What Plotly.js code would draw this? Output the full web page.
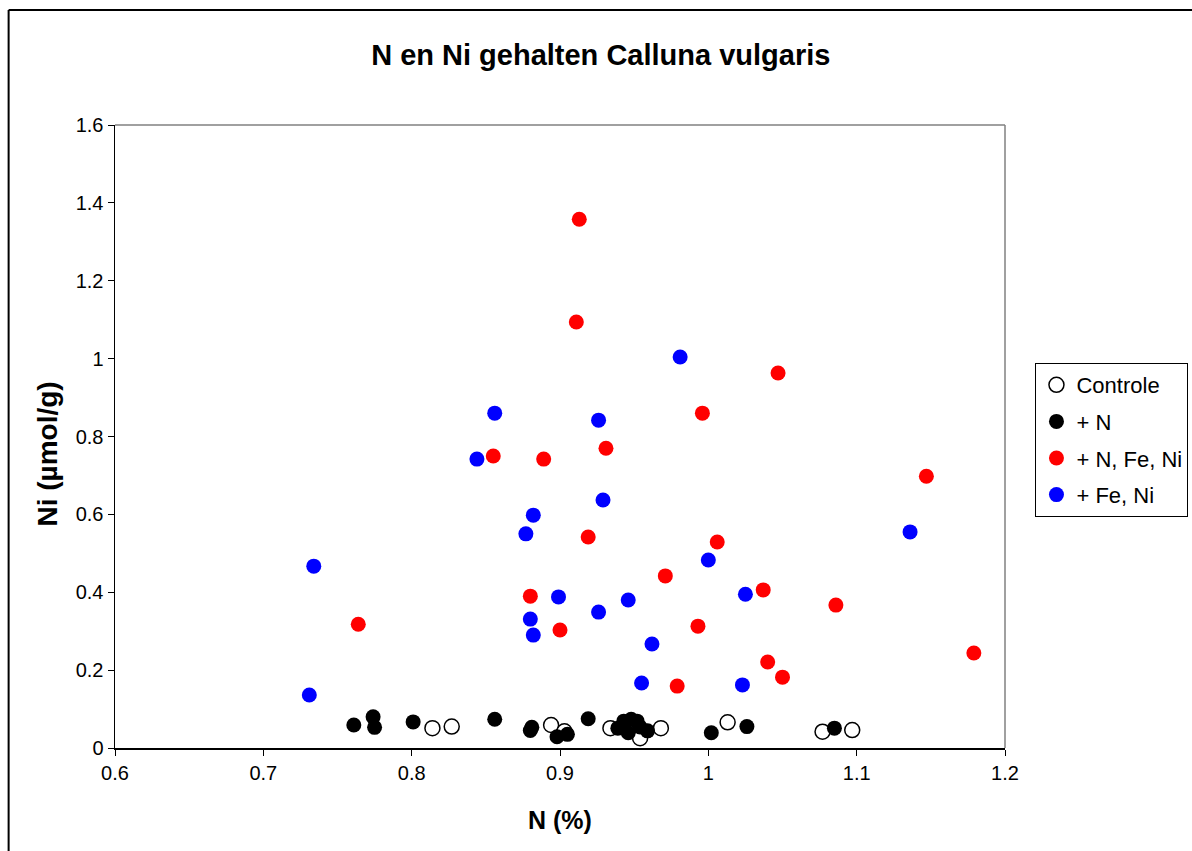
<!DOCTYPE html>
<html>
<head>
<meta charset="utf-8">
<script src="https://cdn.plot.ly/plotly-3.0.1.min.js"></script>
<style>
html,body{margin:0;padding:0;background:#fff;}
#chart{width:1192px;height:851px;}
</style>
</head>
<body>
<div id="chart"></div>
<script>
// Data
const controleN  = [0.814, 0.827, 0.894, 0.903, 0.934, 0.954, 0.968, 1.013, 1.077, 1.097];
const controleNi = [0.051, 0.055, 0.059, 0.043, 0.051, 0.025, 0.051, 0.066, 0.042, 0.046];

const plusN_N  = [0.761, 0.774, 0.775, 0.801, 0.856, 0.880, 0.881, 0.898, 0.905, 0.919,
                  0.939, 0.943, 0.948, 0.952, 0.946, 0.954, 0.959, 1.002, 1.026, 1.085];
const plusN_Ni = [0.059, 0.080, 0.053, 0.067, 0.074, 0.045, 0.053, 0.029, 0.035, 0.075,
                  0.051, 0.069, 0.074, 0.069, 0.039, 0.054, 0.044, 0.039, 0.055, 0.051];

const nFeNi_N  = [0.913, 0.911, 1.047, 0.996, 0.855, 0.889, 0.931, 1.147, 0.919, 1.006, 0.971,
                  1.037, 0.880, 1.086, 0.764, 0.900, 0.993, 1.040, 1.179, 1.050, 0.979];
const nFeNi_Ni = [1.358, 1.094, 0.963, 0.860, 0.750, 0.742, 0.770, 0.698, 0.542, 0.529, 0.442,
                  0.406, 0.390, 0.367, 0.318, 0.303, 0.313, 0.221, 0.244, 0.182, 0.159];

const feNi_N  = [0.981, 0.856, 0.926, 0.844, 0.929, 0.882, 0.877, 1.136, 0.734, 1.000,
                 1.025, 0.899, 0.946, 0.926, 0.880, 0.882, 0.962, 0.955, 1.023, 0.731];
const feNi_Ni = [1.004, 0.860, 0.842, 0.742, 0.637, 0.598, 0.550, 0.555, 0.467, 0.483,
                 0.395, 0.388, 0.380, 0.349, 0.331, 0.290, 0.267, 0.167, 0.162, 0.136];

const seriesNames = ['Controle', '+ N', '+ N, Fe, Ni', '+ Fe, Ni'];
const xTicks = [0.6, 0.7, 0.8, 0.9, 1.0, 1.1, 1.2];
const yTicks = [0, 0.2, 0.4, 0.6, 0.8, 1.0, 1.2, 1.4, 1.6];

const FONT = 'Liberation Sans, Arial, sans-serif';
const MS = 15;

const traces = [
  {x: controleN, y: controleNi, name: seriesNames[0], legendgroup: 'a', mode: 'markers', type: 'scatter',
   marker: {size: MS, color: '#ffffff', line: {color: '#000000', width: 1.5}}},
  {x: plusN_N, y: plusN_Ni, name: seriesNames[1], legendgroup: 'b', mode: 'markers', type: 'scatter',
   marker: {size: MS, color: '#000000', line: {width: 0}}},
  {x: nFeNi_N, y: nFeNi_Ni, name: seriesNames[2], legendgroup: 'c', mode: 'markers', type: 'scatter',
   marker: {size: MS, color: '#ff0000', line: {width: 0}}},
  {x: feNi_N, y: feNi_Ni, name: seriesNames[3], legendgroup: 'd', mode: 'markers', type: 'scatter',
   marker: {size: MS, color: '#0000ff', line: {width: 0}}}
];

const L = 114.5, R = 1005.5, T = 125, B = 748, W = 1192, H = 851;
const pw = R - L, ph = B - T;
function px2x(p){ return (p - L) / pw; }
function py2y(p){ return (B - p) / ph; }

const layout = {
  width: W, height: H,
  margin: {l: L, r: W - R, t: T, b: H - B, pad: 0, autoexpand: false},
  paper_bgcolor: '#ffffff', plot_bgcolor: '#ffffff',
  font: {family: FONT, color: '#000000'},
  title: {text: '<b>N en Ni gehalten Calluna vulgaris</b>', font: {size: 29, family: FONT, color: '#000'},
          x: 0.504, xanchor: 'center', y: 1 - 55 / H, yanchor: 'middle'},
  xaxis: {range: [0.6, 1.2], tickvals: xTicks, ticktext: xTicks.map(v => String(v)),
          showgrid: false, zeroline: false, showline: true, linecolor: '#000', linewidth: 1.5,
          ticks: 'outside', ticklen: 6, tickcolor: '#000', tickfont: {size: 20, family: FONT, color: '#000'},
          title: {text: '<b>N (%)</b>', font: {size: 25, family: FONT}, standoff: 29}},
  yaxis: {range: [0, 1.6], tickvals: yTicks, ticktext: yTicks.map(v => String(v)),
          showgrid: false, zeroline: false, showline: true, linecolor: '#000', linewidth: 1.5,
          ticks: 'outside', ticklen: 6, tickcolor: '#000', tickfont: {size: 20, family: FONT, color: '#000'}},
  annotations: [
    {text: '<b>Ni (µmol/g)</b>', textangle: -90, showarrow: false,
     xref: 'paper', yref: 'paper', x: px2x(46), y: py2y(454), xanchor: 'center', yanchor: 'middle',
     font: {size: 28, family: FONT, color: '#000'}}
  ],
  legend: {x: px2x(1036), xanchor: 'left', y: py2y(363), yanchor: 'top',
           bordercolor: '#000', borderwidth: 1, bgcolor: '#fff',
           font: {size: 22, family: FONT, color: '#000'}, itemwidth: 30, tracegroupgap: 5},
  showlegend: true,
  shapes: [
    // plot area top & right (grey)
    {type: 'line', xref: 'paper', yref: 'paper', x0: 0, x1: 1, y0: 1, y1: 1, line: {color: '#808080', width: 1.5}},
    {type: 'line', xref: 'paper', yref: 'paper', x0: 1, x1: 1, y0: 0, y1: 1, line: {color: '#808080', width: 1.5}},
    // chart area outer border (left & top)
    {type: 'line', xref: 'paper', yref: 'paper', x0: px2x(8), x1: px2x(8), y0: py2y(10), y1: py2y(860), line: {color: '#000', width: 2}},
    {type: 'line', xref: 'paper', yref: 'paper', x0: px2x(8), x1: px2x(1200), y0: py2y(10), y1: py2y(10), line: {color: '#000', width: 2}}
  ]
};

Plotly.newPlot('chart', traces, layout, {displayModeBar: false, staticPlot: true});
</script>
</body>
</html>
